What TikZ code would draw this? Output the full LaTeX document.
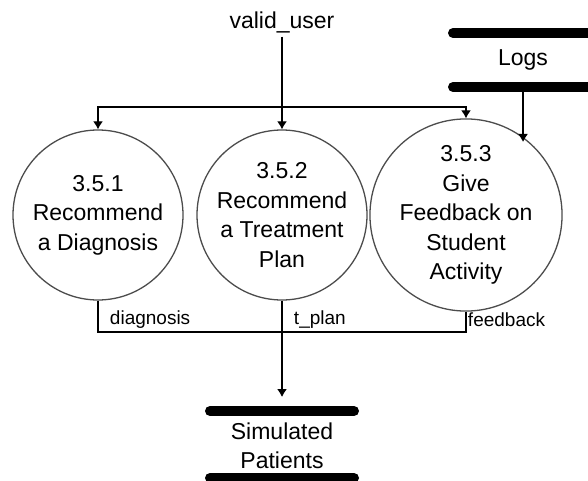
\documentclass[tikz,border=0pt]{standalone}
\usepackage{fontspec}
\setmainfont{Liberation Sans}
\usetikzlibrary{arrows.meta}

\begin{document}
\begin{tikzpicture}[x=1pt, y=-1pt, line width=1.3pt,
    every node/.style={font=\fontsize{23}{29.5}\selectfont},
    process/.style={circle, draw=black!70, minimum size=170pt, inner sep=0pt, align=center},
    flow/.style={-{Latex[length=8pt, width=10pt]}},
    storebar/.style={line width=10pt, line cap=round},
    flowlabel/.style={font=\fontsize{19}{22}\selectfont, anchor=west}]
  \useasboundingbox (0,0) rectangle (588,481);

  % Processes
  \node[process] (p1) at (98,215) {3.5.1\\Recommend\\a Diagnosis};
  \node[process] (p2) at (282,215) {3.5.2\\Recommend\\a Treatment\\Plan};
  \node[process] (p3) at (466,215) {3.5.3\\Give\\Feedback on\\Student\\Activity};

  % Stores
  \node (logs) at (523,60) {Logs};
  \draw[storebar] (453,33) -- (600,33);
  \draw[storebar] (453,87) -- (600,87);
  \node[align=center] (sim) at (282,446) {Simulated\\Patients};
  \draw[storebar] (210,411) -- (354,411);
  \draw[storebar] (210,478) -- (354,478);

  % Input
  \node (user) at (282,22) {valid\_user};
  \coordinate (split) at (282,107);
  \draw (user) -- (split);
  \draw[flow] (split) -- (p2);
  \draw[flow] (split) -| (p1);
  \draw[flow] (split) -| (p3);

  % Logs to 3.5.3
  \coordinate (logsout) at (523,92);
  \coordinate (logsin) at (523,142);
  \draw[flow] (logsout) -- (logsin);

  % Outputs
  \coordinate (join) at (282,332);
  \coordinate (simin) at (282,397);
  \draw (p1.south) |- (join);
  \draw (p3.south) |- (join);
  \draw[flow] (p2.south) -- (simin);
  \node[flowlabel] (ldiag) at (106,320) {diagnosis};
  \node[flowlabel] (lplan) at (290,320) {t\_plan};
  \node[flowlabel] (lfeed) at (464,320) {feedback};
\end{tikzpicture}
\end{document}
